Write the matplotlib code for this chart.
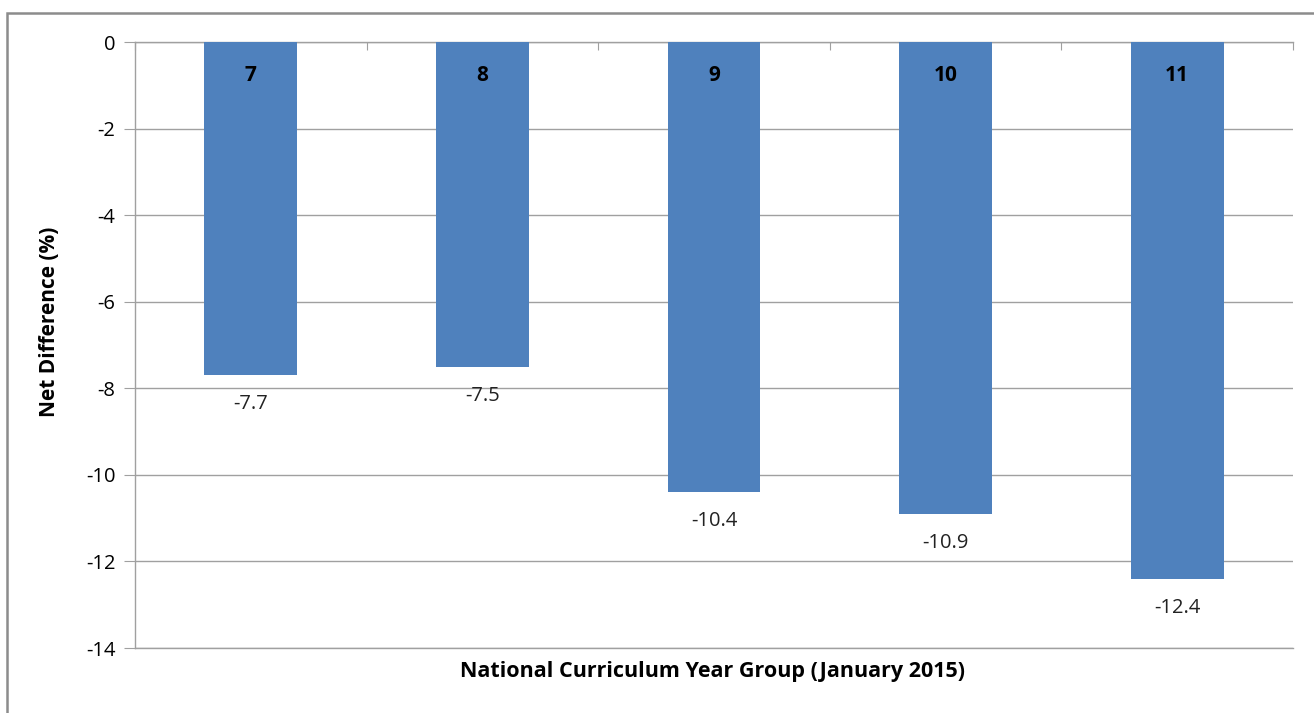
import matplotlib.pyplot as plt
from matplotlib.patches import Rectangle
import numpy as np

plt.rcParams['font.family'] = ['Open Sans', 'DejaVu Sans']
plt.rcParams['axes.unicode_minus'] = False

# data
year_groups = ['7', '8', '9', '10', '11']
net_diff = [-7.7, -7.5, -10.4, -10.9, -12.4]

bar_color = '#4F81BD'
grid_color = '#A0A0A0'

fig = plt.figure(figsize=(13.14, 7.13), dpi=100)
ax = fig.add_axes([135/1314, 65/713, (1293-135)/1314, (648-42)/713])

x = np.arange(len(year_groups))
ax.bar(x, net_diff, width=0.4, color=bar_color, zorder=3)

ax.set_xlim(-0.5, len(year_groups) - 0.5)
ax.set_ylim(-14, 0)
ax.set_yticks(np.arange(-14, 1, 2))
ax.tick_params(axis='y', labelsize=14.5, length=8, color=grid_color, pad=6)
ax.yaxis.grid(True, color=grid_color, linewidth=1, zorder=0)
ax.axhline(-14, color=grid_color, linewidth=1, clip_on=False, zorder=1)

# category ticks along the zero line
ax.xaxis.set_ticks_position('top')
ax.set_xticks(np.arange(-0.5, len(year_groups)))
ax.set_xticklabels([])
ax.tick_params(axis='x', direction='in', length=6, color=grid_color)

for side in ['right', 'bottom']:
    ax.spines[side].set_visible(False)
for side in ['left', 'top']:
    ax.spines[side].set_color(grid_color)
    ax.spines[side].set_linewidth(1)

for xi, name, v in zip(x, year_groups, net_diff):
    ax.text(xi, -0.78, name, ha='center', va='center', fontsize=15,
            fontweight='bold', color='black', zorder=4)
    ax.text(xi, v - 0.67, f'{v:.1f}', ha='center', va='center', fontsize=14.5,
            color='#222222', zorder=4)

ax.set_ylabel('Net Difference (%)', fontsize=15, fontweight='bold')
ax.yaxis.set_label_coords(-0.065, 0.538)
fig.text(713/1314, 1 - 672/713, 'National Curriculum Year Group (January 2015)',
         ha='center', va='center', fontsize=15.5, fontweight='bold')

# chart border
fig.patches.append(Rectangle((7/1314, -0.1), 1.2, 1 - 13/713 + 0.1,
                             transform=fig.transFigure, fill=False,
                             edgecolor='#8C8C8C', linewidth=1.8))

fig.savefig('out.png', dpi=100)
